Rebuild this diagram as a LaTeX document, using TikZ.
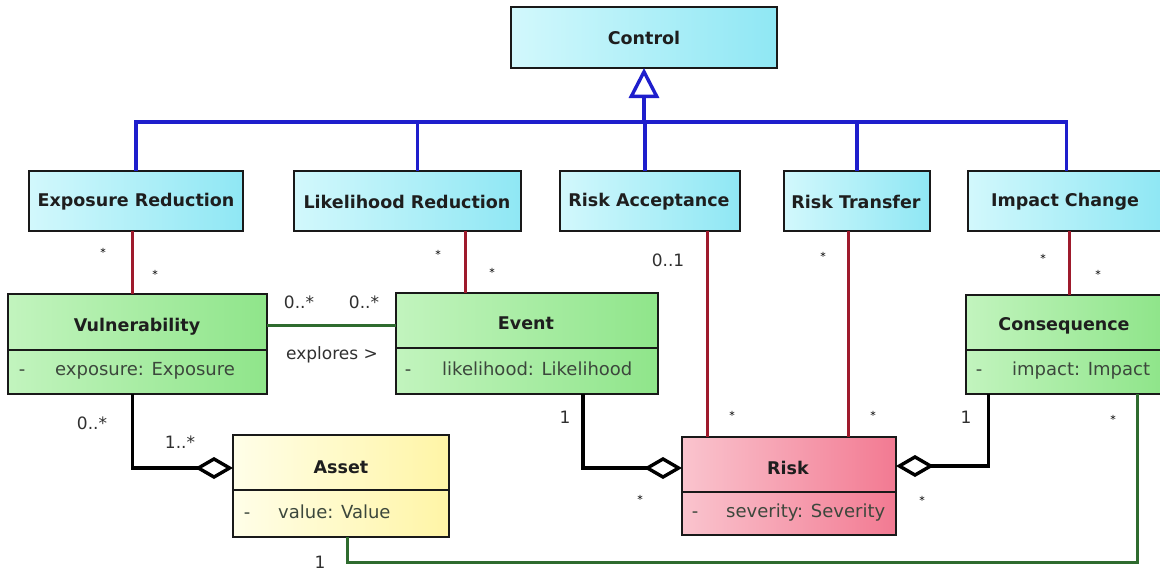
\documentclass[tikz,border=0pt]{standalone}
\usepackage{fontspec}
\setmainfont{DejaVu Sans}
\usetikzlibrary{arrows.meta}

% fills of the class boxes
\definecolor{cyanL}{HTML}{D2F8FC}
\definecolor{cyanR}{HTML}{8FE7F4}
\definecolor{greenL}{HTML}{C2F4BE}
\definecolor{greenR}{HTML}{8FE58A}
\definecolor{yellowL}{HTML}{FFFEE8}
\definecolor{yellowR}{HTML}{FFF5A6}
\definecolor{pinkL}{HTML}{FAC4CE}
\definecolor{pinkR}{HTML}{F27A92}
% lines and text
\definecolor{genC}{HTML}{1E1ECC}
\definecolor{assocC}{HTML}{9E1A2C}
\definecolor{linkC}{HTML}{2F6B2F}
\definecolor{nameC}{HTML}{1E1E1E}
\definecolor{attrC}{HTML}{3C473C}
\definecolor{multC}{HTML}{303030}

\begin{document}
\begin{tikzpicture}[x=1pt,y=-1pt,
  box/.style={draw=black!90, line width=1.2pt, anchor=north west,
    inner sep=0pt, outer sep=0pt},
  ctrlbox/.style={box, left color=cyanL, right color=cyanR},
  greenbox/.style={box, left color=greenL, right color=greenR},
  yellowbox/.style={box, left color=yellowL, right color=yellowR},
  pinkbox/.style={box, left color=pinkL, right color=pinkR},
  divider/.style={draw=black!90, line width=1.2pt},
  cname/.style={font=\bfseries\fontsize{17.5}{20}\selectfont, text=nameC, inner sep=0pt},
  attr/.style={font=\fontsize{18}{21}\selectfont, text=attrC, inner sep=0pt, anchor=west},
  vismark/.style={font=\fontsize{18}{21}\selectfont, text=attrC, inner sep=0pt, anchor=base},
  mult/.style={font=\fontsize{17}{20}\selectfont, text=multC, inner sep=0pt},
  star/.style={font=\fontsize{11}{12}\selectfont, text=black, inner sep=0pt},
  gen/.style={draw=genC, line width=3.4pt},
  assoc/.style={draw=assocC, line width=3pt},
  link/.style={draw=linkC, line width=3pt},
  agg/.style={draw=black, line width=3.4pt,
    -{Diamond[length=38pt,width=22pt,fill=white]}},
]
\useasboundingbox (0,0) rectangle (1160,571);
\fill[white] (0,0) rectangle (1160,571);

% ---------- Control and its specialisations ----------
\node[ctrlbox, minimum width=266pt, minimum height=61pt] (ctrl) at (511,7) {};
\node[cname] (ctrlname) at (644,38) {Control};

\node[ctrlbox, minimum width=214pt, minimum height=60pt] (exr) at (29,171) {};
\node[cname] (exrname) at (136,202) {Exposure Reduction};
\node[ctrlbox, minimum width=227pt, minimum height=60pt] (lkr) at (294,171) {};
\node[cname] (lkrname) at (407,202) {Likelihood Reduction};
\node[ctrlbox, minimum width=180pt, minimum height=60pt] (rac) at (560,171) {};
\node[cname] (racname) at (649,202) {Risk Acceptance};
\node[ctrlbox, minimum width=146pt, minimum height=60pt] (rtr) at (784,171) {};
\node[cname] (rtrname) at (856,202) {Risk Transfer};
\node[ctrlbox, minimum width=193pt, minimum height=60pt] (imc) at (968,171) {};
\node[cname] (imcname) at (1065,202) {Impact Change};

% ---------- domain classes ----------
\node[greenbox, minimum width=259pt, minimum height=100pt] (vul) at (8,294) {};
\draw[divider] ([yshift=-56pt]vul.north west) -- ([yshift=-56pt]vul.north east);
\node[cname] (vulname) at (137,327) {Vulnerability};
\node[attr] (vulattr) at (55,371) {exposure: Exposure};
\node[vismark] (vuldash) at ([xshift=-33pt]vulattr.base west) {-};

\node[greenbox, minimum width=262pt, minimum height=101pt] (evt) at (396,293) {};
\draw[divider] ([yshift=-55pt]evt.north west) -- ([yshift=-55pt]evt.north east);
\node[cname] (evtname) at (526,323) {Event};
\node[attr] (evtattr) at (442,369) {likelihood: Likelihood};
\node[vismark] (evtdash) at ([xshift=-34pt]evtattr.base west) {-};

\node[greenbox, minimum width=195pt, minimum height=99pt] (cons) at (966,295) {};
\draw[divider] ([yshift=-55pt]cons.north west) -- ([yshift=-55pt]cons.north east);
\node[cname] (consname) at (1064,326) {Consequence};
\node[attr] (consattr) at (1012,371) {impact: Impact};
\node[vismark] (consdash) at ([xshift=-33pt]consattr.base west) {-};

\node[yellowbox, minimum width=216pt, minimum height=102pt] (asset) at (233,435) {};
\draw[divider] ([yshift=-55pt]asset.north west) -- ([yshift=-55pt]asset.north east);
\node[cname] (assetname) at (341,467) {Asset};
\node[attr] (assetattr) at (278,512) {value: Value};
\node[vismark] (assetdash) at ([xshift=-31pt]assetattr.base west) {-};

\node[pinkbox, minimum width=214pt, minimum height=98pt] (risk) at (682,437) {};
\draw[divider] ([yshift=-55pt]risk.north west) -- ([yshift=-55pt]risk.north east);
\node[cname] (riskname) at (788,468) {Risk};
\node[attr] (riskattr) at (726,513) {severity: Severity};
\node[vismark] (riskdash) at ([xshift=-31pt]riskattr.base west) {-};

% ---------- generalisation tree ----------
\coordinate (bus) at (644,122);
\draw[gen] (exr.north) |- (bus);
\draw[gen] ([xshift=10pt]lkr.north) |- (bus);
\draw[gen] ([xshift=-5pt]rac.north) |- (bus);
\draw[gen] (rtr.north) |- (bus);
\draw[gen] ([xshift=2pt]imc.north) |- (bus);
\draw[gen, -{Triangle[length=30pt,width=30pt,fill=white]}] (bus) -- (ctrl.south);

% ---------- associations from the controls ----------
\draw[assoc] ([xshift=-4pt]exr.south) -- ([xshift=-4pt]exr.south |- vul.north);
\draw[assoc] ([xshift=58pt]lkr.south) -- ([xshift=58pt]lkr.south |- evt.north);
\draw[assoc] ([xshift=57pt]rac.south) -- ([xshift=57pt]rac.south |- risk.north);
\draw[assoc] ([xshift=-9pt]rtr.south) -- ([xshift=-9pt]rtr.south |- risk.north);
\draw[assoc] ([xshift=5pt]imc.south) -- ([xshift=5pt]imc.south |- cons.north);

% ---------- associations between domain classes ----------
\draw[link] ([yshift=19pt]vul.east) -- ([yshift=19pt]vul.east -| evt.west);
\draw[link] ([xshift=6pt]asset.south) -- ++(0,25) -| ([xshift=74pt]cons.south);

% ---------- aggregations ----------
\draw[agg] ([xshift=-5pt]vul.south) |- ([yshift=18pt]asset.west);
\draw[agg] ([xshift=56pt]evt.south) |- ([yshift=18pt]risk.west);
\draw[agg] ([xshift=-75pt]cons.south) |- ([yshift=20pt]risk.east);

% ---------- multiplicities and role names ----------
\node[star] (m1) at (103,252) {*};
\node[star] (m2) at (155,274) {*};
\node[star] (m3) at (438,254) {*};
\node[star] (m4) at (492,272) {*};
\node[mult] (m5) at (668,260) {0..1};
\node[star] (m6) at (823,256) {*};
\node[star] (m7) at (1043,258) {*};
\node[star] (m8) at (1098,274) {*};
\node[mult] (m9) at (299,302) {0..*};
\node[mult] (m10) at (364,302) {0..*};
\node[mult] (expl) at (332,355) {explores >};
\node[mult] (m11) at (92,423) {0..*};
\node[mult] (m12) at (180,442) {1..*};
\node[mult] (m13) at (565,417) {1};
\node[star] (m14) at (732,415) {*};
\node[star] (m15) at (873,415) {*};
\node[mult] (m16) at (966,417) {1};
\node[star] (m17) at (1113,419) {*};
\node[star] (m18) at (640,499) {*};
\node[star] (m19) at (922,500) {*};
\node[mult] (m20) at (320,562) {1};
\end{tikzpicture}
\end{document}
